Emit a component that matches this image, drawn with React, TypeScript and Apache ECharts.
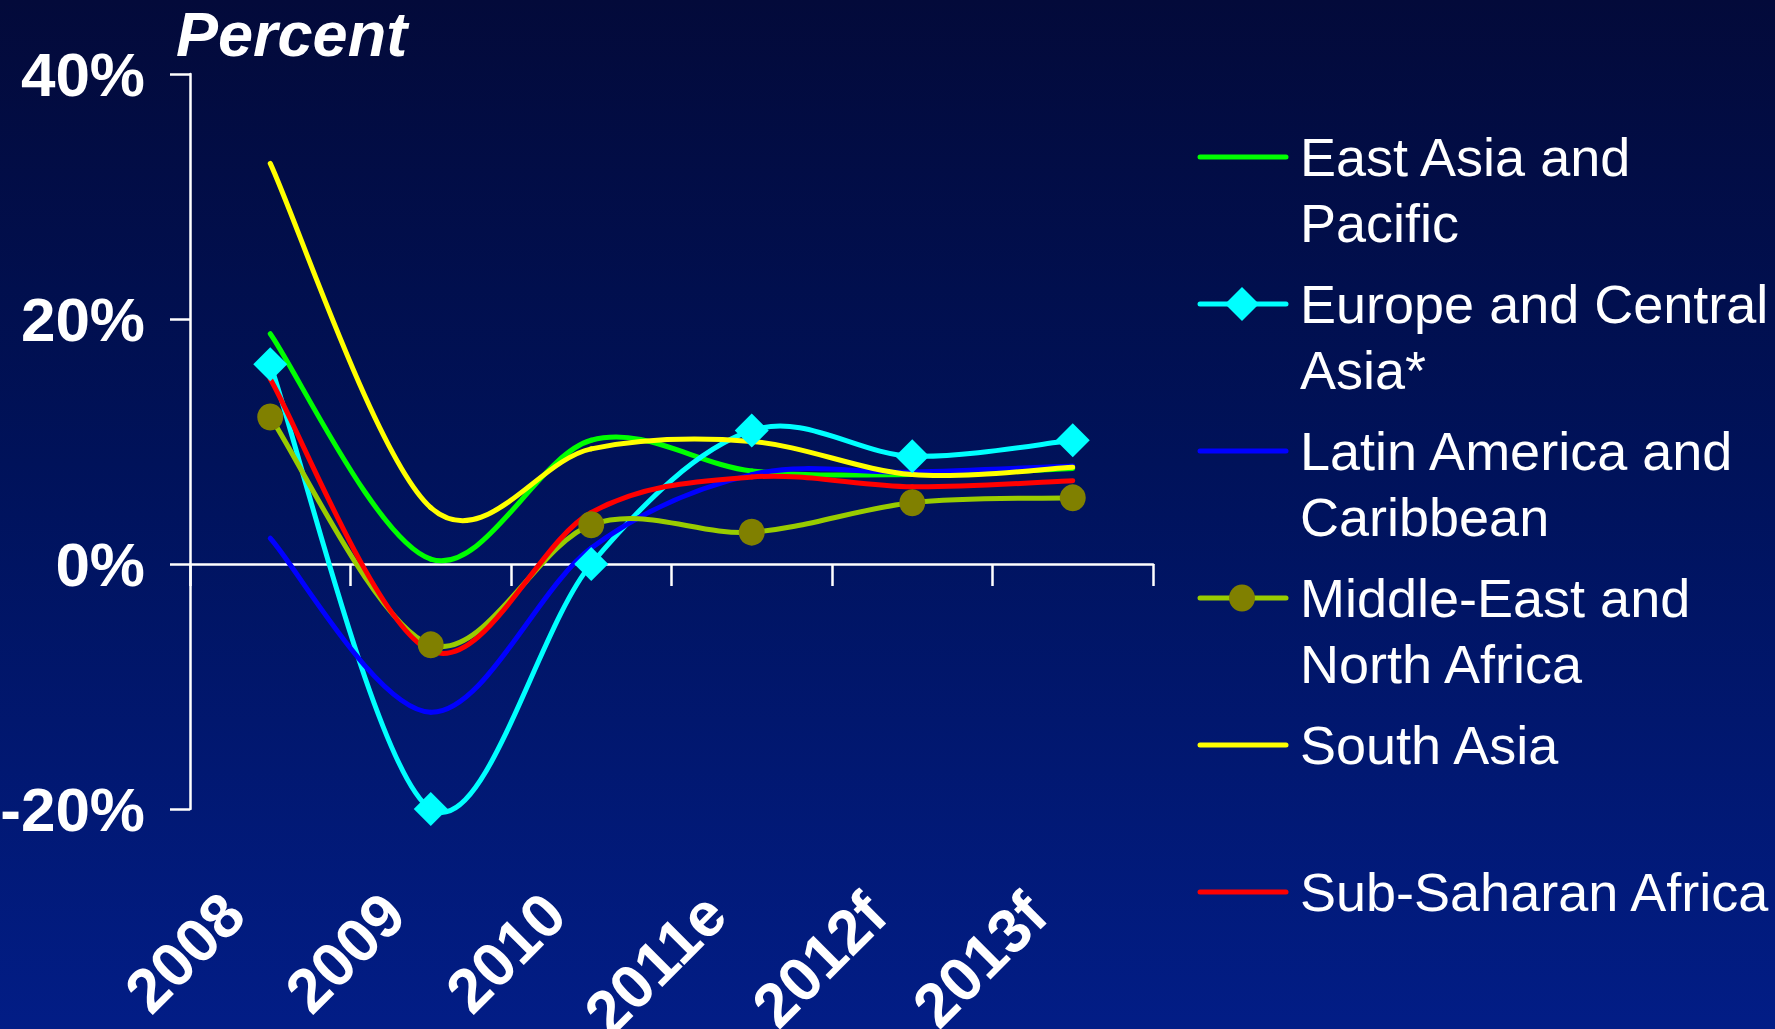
import React, { useEffect, useRef } from "react";
import * as echarts from "echarts";

// ---------- data ----------
const categories = ["2008", "2009", "2010", "2011e", "2012f", "2013f"];
const eastAsiaPacific = [18.8, 0.4, 10.1, 7.6, 7.3, 7.8];
const europeCentralAsia = [16.3, -20.0, 0.0, 10.9, 8.8, 10.1];
const latinAmericaCaribbean = [2.1, -12.1, 1.3, 7.3, 7.5, 8.0];
const middleEastNorthAfrica = [12.0, -6.6, 3.2, 2.6, 5.0, 5.4];
const southAsia = [32.7, 4.6, 9.4, 10.0, 7.3, 7.9];
const subSaharanAfrica = [15.1, -7.1, 4.2, 7.1, 6.3, 6.8];

const yMin = -20;
const yMax = 40;
const yStep = 20;

const seriesNames = [
  "East Asia and Pacific",
  "Europe and Central Asia*",
  "Latin America and Caribbean",
  "Middle-East and North Africa",
  "South Asia",
  "Sub-Saharan Africa",
];
const legendLabels = [
  "East Asia and\nPacific",
  "Europe and Central\nAsia*",
  "Latin America and\nCaribbean",
  "Middle-East and\nNorth Africa",
  "South Asia",
  "Sub-Saharan Africa",
];
const seriesData = [
  eastAsiaPacific,
  europeCentralAsia,
  latinAmericaCaribbean,
  middleEastNorthAfrica,
  southAsia,
  subSaharanAfrica,
];
const lineColors = ["#00ff00", "#00ffff", "#0000ff", "#99cc00", "#ffff00", "#ff0000"];
const markerTypes = ["none", "diamond", "none", "circle", "none", "none"];
const markerColors = ["#00ff00", "#00ffff", "#0000ff", "#808000", "#ffff00", "#ff0000"];

const FONT = '"Liberation Sans", Arial, Helvetica, sans-serif';

// Spreadsheet-style smoothed line: one cubic Bezier per segment, with
// Catmull-Rom control points built from the library's own coordinates.
function makeSmoothRenderer(values: number[], color: string) {
  return (params: any, api: any) => {
    const i = params.dataIndex;
    const n = values.length;
    if (i >= n - 1) return null;
    const p0 = api.coord([Math.max(i - 1, 0), values[Math.max(i - 1, 0)]]);
    const p1 = api.coord([i, values[i]]);
    const p2 = api.coord([i + 1, values[i + 1]]);
    const p3 = api.coord([Math.min(i + 2, n - 1), values[Math.min(i + 2, n - 1)]]);
    return {
      type: "bezierCurve",
      shape: {
        x1: p1[0],
        y1: p1[1],
        x2: p2[0],
        y2: p2[1],
        cpx1: p1[0] + (p2[0] - p0[0]) / 6,
        cpy1: p1[1] + (p2[1] - p0[1]) / 6,
        cpx2: p2[0] - (p3[0] - p1[0]) / 6,
        cpy2: p2[1] - (p3[1] - p1[1]) / 6,
      },
      style: {
        stroke: color,
        lineWidth: 5,
        fill: null,
        lineCap: "round",
        lineJoin: "round",
      },
      silent: true,
    };
  };
}

export default function App() {
  const ref = useRef<HTMLDivElement>(null);

  useEffect(() => {
    document.body.style.margin = "0";
    if (!ref.current) return;
    const chart = echarts.init(ref.current, undefined, { renderer: "svg" });

    const lineSeries = seriesData.map((d, i) => ({
      type: "custom",
      name: seriesNames[i],
      coordinateSystem: "cartesian2d",
      xAxisIndex: 0,
      yAxisIndex: 0,
      data: d.map((v, k) => [k, v]),
      encode: { x: 0, y: 1 },
      renderItem: makeSmoothRenderer(d, lineColors[i]),
      z: 2,
      silent: true,
    }));

    const markerSeries = seriesData
      .map((d, i) => ({ d, i }))
      .filter(({ i }) => markerTypes[i] !== "none")
      .map(({ d, i }) => ({
        type: "scatter",
        name: seriesNames[i],
        data: d,
        xAxisIndex: 0,
        yAxisIndex: 0,
        symbol: markerTypes[i],
        symbolSize: markerTypes[i] === "diamond" ? 34 : [26, 27],
        itemStyle: { color: markerColors[i], borderWidth: 0, opacity: 1 },
        z: 4,
        silent: true,
        emphasis: { disabled: true },
      }));

    // legend drawn as graphic so the marker aligns with the first text line
    const legendGraphic: any[] = [];
    const lx0 = 1200;
    const lx1 = 1286;
    legendLabels.forEach((label, i) => {
      const y = 157 + 147 * i;
      legendGraphic.push({
        type: "line",
        shape: { x1: lx0, y1: y, x2: lx1, y2: y },
        style: { stroke: lineColors[i], lineWidth: 5, lineCap: "round" },
        z: 10,
      });
      if (markerTypes[i] === "diamond") {
        legendGraphic.push({
          type: "polygon",
          shape: {
            points: [
              [1242, y - 17],
              [1259, y],
              [1242, y + 17],
              [1225, y],
            ],
          },
          style: { fill: markerColors[i] },
          z: 11,
        });
      } else if (markerTypes[i] === "circle") {
        legendGraphic.push({
          type: "ellipse",
          shape: { cx: 1242, cy: y, rx: 13, ry: 13.5 },
          style: { fill: markerColors[i] },
          z: 11,
        });
      }
      legendGraphic.push({
        type: "text",
        x: 1300,
        y: y - 32.75,
        style: {
          text: label,
          fill: "#ffffff",
          font: `54px ${FONT}`,
          lineHeight: 65.5,
          verticalAlign: "top",
          align: "left",
        },
        z: 11,
      });
    });

    chart.setOption({
      animation: false,
      backgroundColor: "transparent",
      grid: {
        left: 190,
        top: 74,
        width: 963,
        height: 735,
        containLabel: false,
        outerBoundsMode: "none",
      },
      xAxis: [
        {
          type: "category",
          data: categories,
          position: "bottom",
          boundaryGap: true,
          axisLine: { show: true, onZero: true, lineStyle: { color: "#ffffff", width: 2.5 } },
          axisTick: { show: true, interval: 0, length: 22, lineStyle: { color: "#ffffff", width: 2.5 } },
          axisLabel: { show: false },
          splitLine: { show: false },
        },
        {
          type: "category",
          data: categories,
          position: "bottom",
          boundaryGap: true,
          axisLine: { show: false, onZero: false },
          axisTick: { show: false },
          axisLabel: {
            show: true,
            interval: 0,
            rotate: 45,
            margin: 58,
            padding: [0, 52, 0, 0],
            color: "#ffffff",
            fontSize: 62,
            fontWeight: "bold",
            fontFamily: FONT,
          },
          splitLine: { show: false },
        },
      ],
      yAxis: {
        type: "value",
        min: yMin,
        max: yMax,
        interval: yStep,
        axisLine: { show: true, lineStyle: { color: "#ffffff", width: 2.5 } },
        axisTick: { show: true, length: 20, lineStyle: { color: "#ffffff", width: 2.5 } },
        splitLine: { show: false },
        axisLabel: {
          formatter: "{value}%",
          color: "#ffffff",
          fontSize: 62,
          fontWeight: "bold",
          fontFamily: FONT,
          margin: 45,
        },
      },
      graphic: [
        {
          type: "text",
          x: 176,
          y: 34,
          style: {
            text: "Percent",
            fill: "#ffffff",
            font: `italic bold 63px ${FONT}`,
            lineHeight: 62,
            verticalAlign: "middle",
            align: "left",
          },
          z: 11,
        },
        ...legendGraphic,
      ],
      series: [...lineSeries, ...markerSeries],
    });

    return () => {
      chart.dispose();
    };
  }, []);

  return (
    <div
      ref={ref}
      style={{
        position: "fixed",
        left: 0,
        top: 0,
        width: 1775,
        height: 1029,
        background: "linear-gradient(to bottom, #030a3a 0%, #00125a 45%, #021d86 100%)",
      }}
    />
  );
}
